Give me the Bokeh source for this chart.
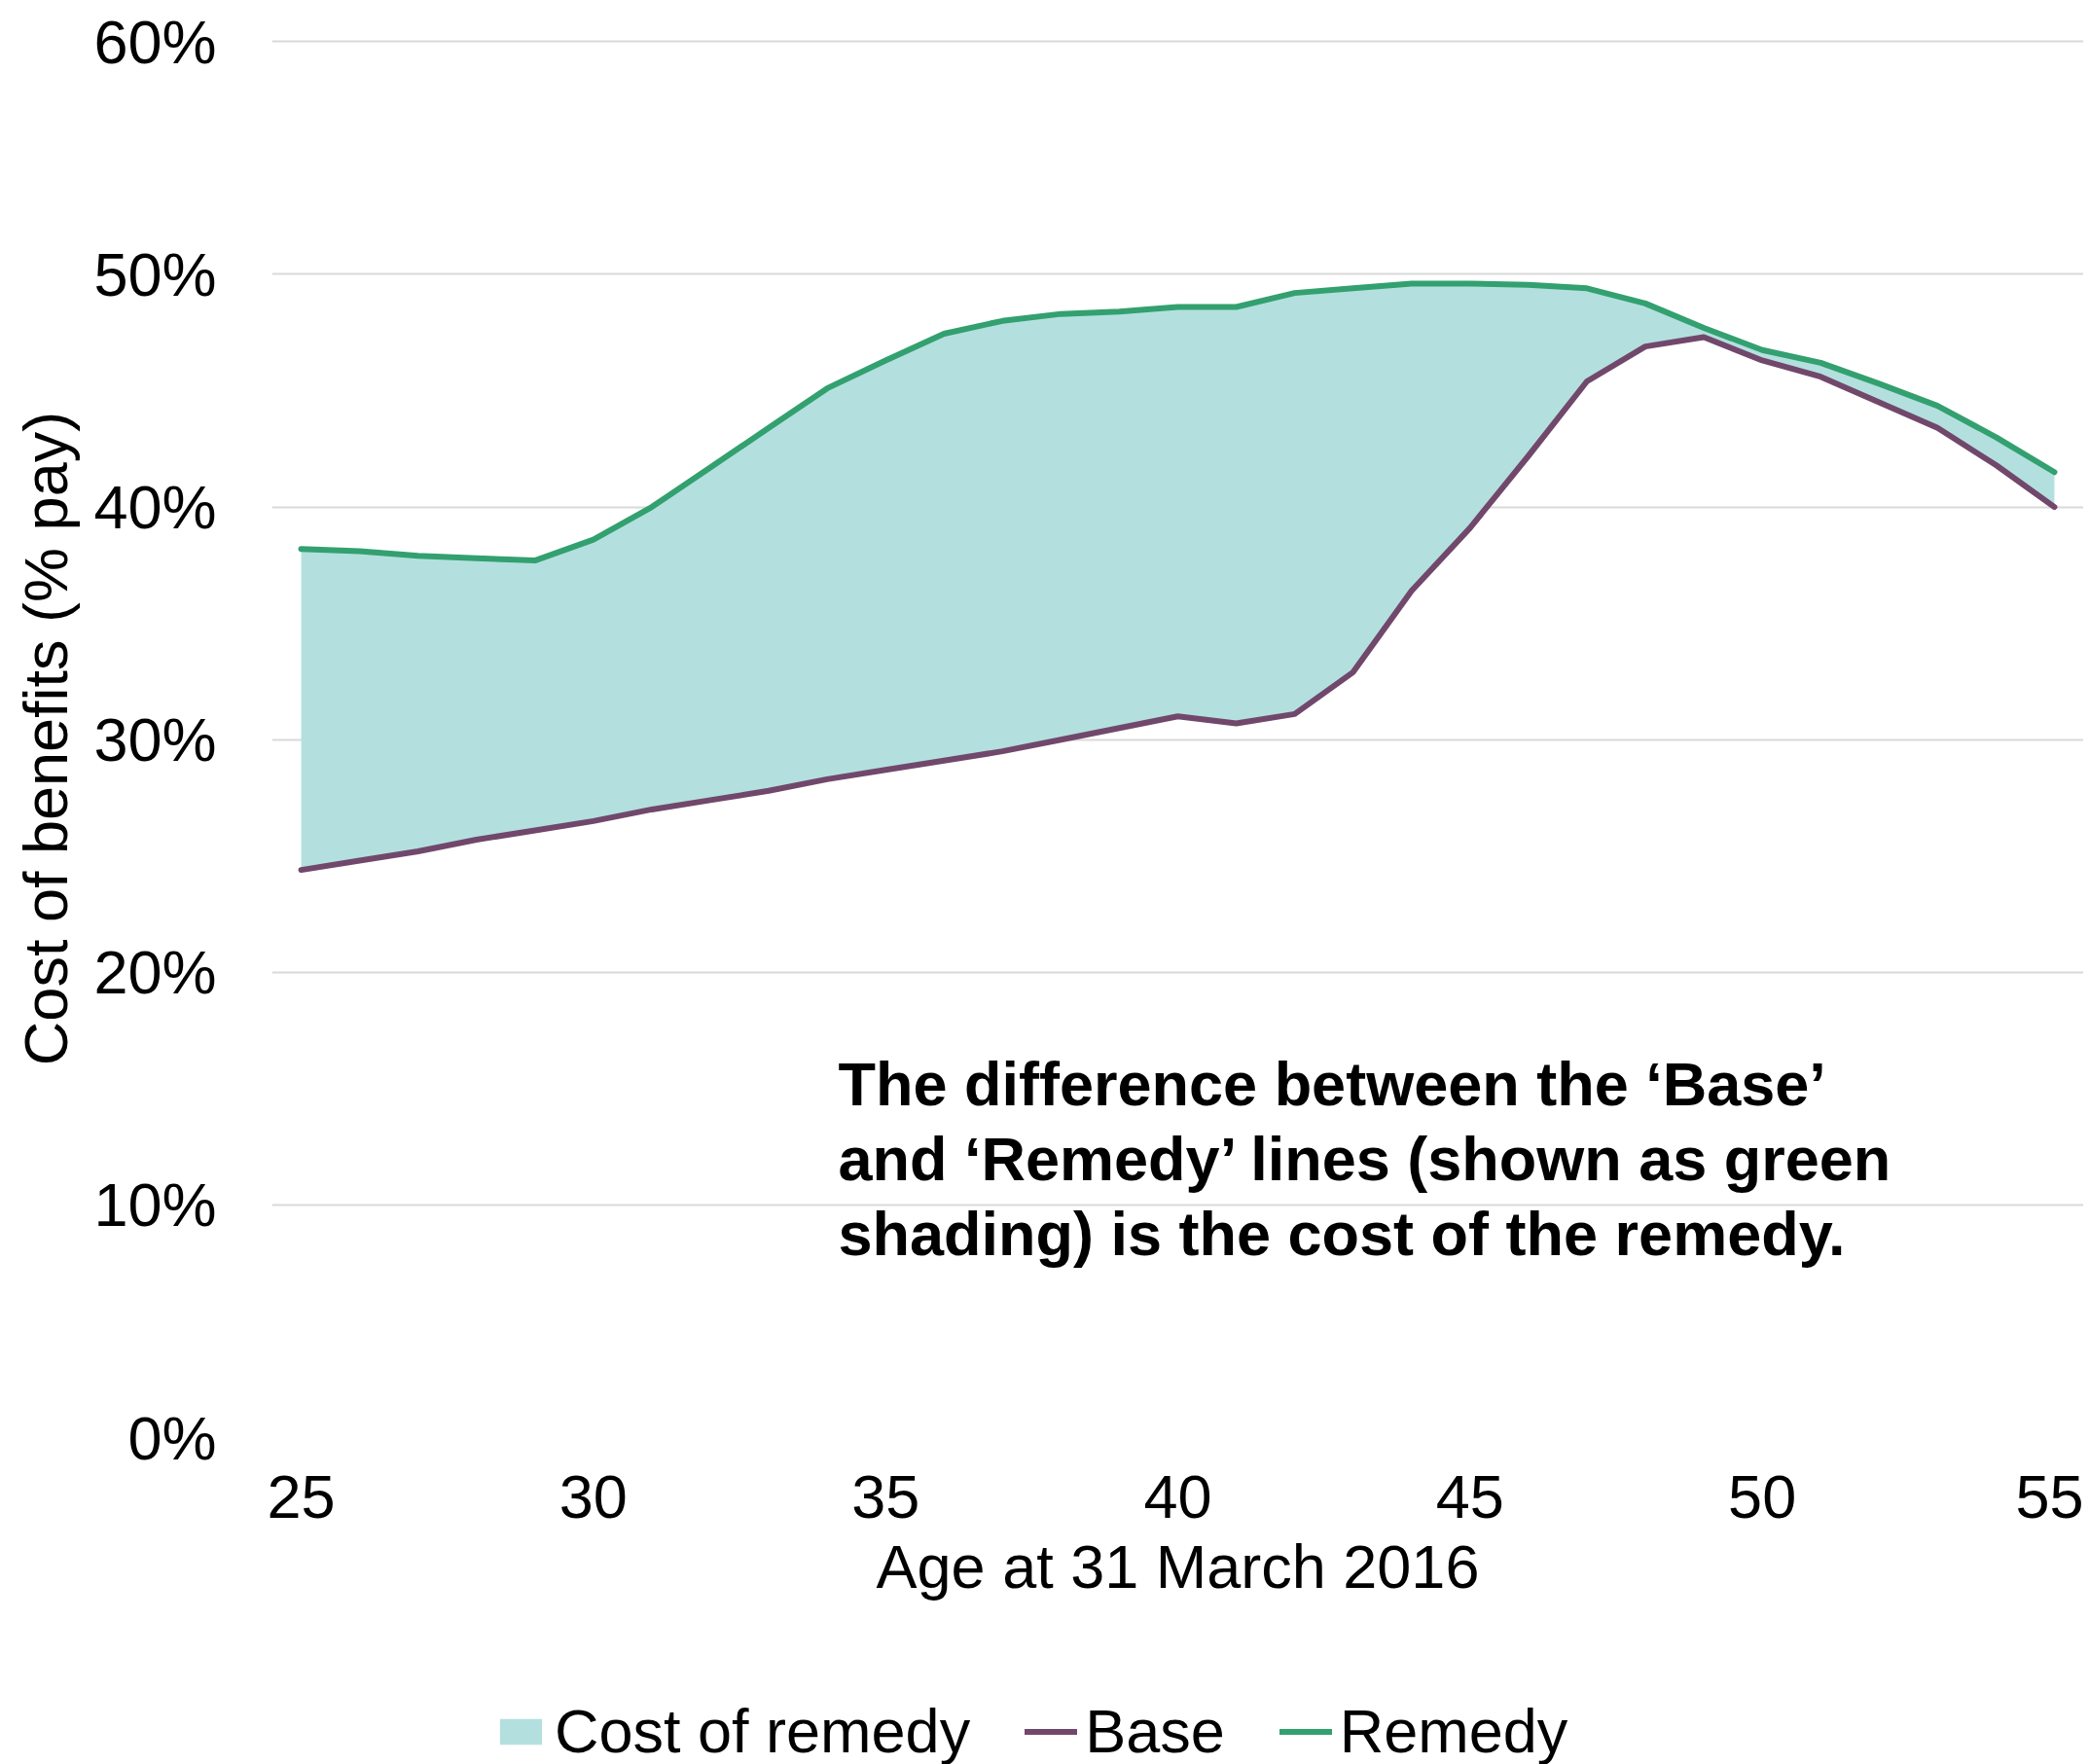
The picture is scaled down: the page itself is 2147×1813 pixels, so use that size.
from bokeh.plotting import figure
from bokeh.layouts import column
from bokeh.models import (Range1d, FixedTicker, PrintfTickFormatter, Legend, LegendItem,
                          Label, ColumnDataSource)
from bokeh.embed import file_html
from bokeh.resources import INLINE

# ---- data ----
ages = [25, 26, 27, 28, 29, 30, 31, 32, 33, 34, 35, 36, 37, 38, 39, 40,
        41, 42, 43, 44, 45, 46, 47, 48, 49, 50, 51, 52, 53, 54, 55]
base = [24.4, 24.8, 25.2, 25.7, 26.1, 26.5, 27.0, 27.4, 27.8, 28.3, 28.7, 29.1, 29.5, 30.0, 30.5, 31.0,
        30.7, 31.1, 32.9, 36.4, 39.1, 42.2, 45.4, 46.9, 47.3, 46.3, 45.6, 44.5, 43.4, 41.8, 40.0]
remedy = [38.2, 38.1, 37.9, 37.8, 37.7, 38.6, 40.0, 41.7, 43.4, 45.1, 46.3, 47.45, 48.0, 48.3, 48.4, 48.6,
          48.6, 49.2, 49.4, 49.6, 49.6, 49.55, 49.4, 48.75, 47.7, 46.75, 46.2, 45.3, 44.35, 43.0, 41.5]
x_ticks = [25, 30, 35, 40, 45, 50, 55]
y_ticks = [0, 10, 20, 30, 40, 50, 60]
series_labels = ["Cost of remedy", "Base", "Remedy"]
annotation_lines = ["The difference between the \u2018Base\u2019",
                    "and \u2018Remedy\u2019 lines (shown as green",
                    "shading) is the cost of the remedy."]

FONT = "Liberation Sans"
FS = "63px"
GREEN = "#33a070"
PURPLE = "#71486b"
FILL = "#b3e0de"

W = 2141
H_MAIN = 1700
H_LEG = 113

src = ColumnDataSource(dict(age=ages, base=base, remedy=remedy))

p = figure(width=W, height=H_MAIN, output_backend="svg", toolbar_location=None,
           x_range=Range1d(24.5, 55.5), y_range=Range1d(0, 60.1),
           min_border_left=279, min_border_right=0, min_border_top=40,
           min_border_bottom=H_MAIN - 1477)
p.outline_line_color = None
p.background_fill_color = "white"
p.border_fill_color = "white"

p.varea(x="age", y1="base", y2="remedy", source=src, fill_color=FILL)
p.line(x="age", y="base", source=src, line_color=PURPLE, line_width=6,
       line_cap="round", line_join="round")
p.line(x="age", y="remedy", source=src, line_color=GREEN, line_width=6,
       line_cap="round", line_join="round")

# axes
p.xaxis.ticker = FixedTicker(ticks=x_ticks)
p.yaxis.ticker = FixedTicker(ticks=y_ticks)
p.yaxis.formatter = PrintfTickFormatter(format="%d%%")
for ax in (p.xaxis, p.yaxis):
    ax.axis_line_color = None
    ax.major_tick_line_color = None
    ax.minor_tick_line_color = None
    ax.major_tick_out = 0
    ax.major_tick_in = 0
    ax.minor_tick_out = 0
    ax.major_label_text_font = FONT
    ax.major_label_text_font_size = FS
    ax.major_label_text_color = "black"
    ax.axis_label_text_font = FONT
    ax.axis_label_text_font_size = FS
    ax.axis_label_text_font_style = "normal"
    ax.axis_label_text_color = "black"
p.xaxis.axis_label = "Age at 31 March 2016"
p.yaxis.axis_label = "Cost of benefits (% pay)"
p.xaxis.major_label_standoff = 39
p.xaxis.axis_label_standoff = 12
p.yaxis.major_label_standoff = 57
p.yaxis.axis_label_standoff = 11

p.xgrid.grid_line_color = None
p.ygrid.grid_line_color = "#d9d9d9"
p.ygrid.grid_line_width = 2

# annotation (data units)
for line, yv in zip(annotation_lines, [15.22, 12.0, 8.78]):
    p.add_layout(Label(x=34.19, y=yv, text=line, text_font=FONT, text_font_size=FS,
                       text_font_style="bold", text_color="black",
                       text_baseline="alphabetic", text_align="left"))

# legend strip below the chart: same series drawn with the same styles,
# outside this strip's visible range, so that only their legend keys show
pl = figure(width=W, height=H_LEG, output_backend="svg", toolbar_location=None,
            x_range=Range1d(24.5, 55.5), y_range=Range1d(0, 1),
            x_axis_type=None, y_axis_type=None,
            min_border_left=0, min_border_right=0, min_border_top=0, min_border_bottom=0)
pl.outline_line_color = None
pl.grid.visible = False
pl.background_fill_color = "white"
pl.border_fill_color = "white"
k_area = pl.varea(x="age", y1="base", y2="remedy", source=src, fill_color=FILL)
k_base = pl.line(x="age", y="base", source=src, line_color=PURPLE, line_width=6, line_cap="round")
k_rem = pl.line(x="age", y="remedy", source=src, line_color=GREEN, line_width=6, line_cap="round")

legend = Legend(items=[LegendItem(label=series_labels[0], renderers=[k_area]),
                       LegendItem(label=series_labels[1], renderers=[k_base]),
                       LegendItem(label=series_labels[2], renderers=[k_rem])],
                orientation="horizontal", location=(229, -2),
                label_text_font=FONT, label_text_font_size=FS, label_text_color="black",
                glyph_width=54, glyph_height=33, label_standoff=8, spacing=56,
                label_height=66, padding=0, margin=0,
                border_line_color=None, background_fill_alpha=0)
pl.add_layout(legend, "center")

layout = column(p, pl, spacing=0)
open("out.html", "w").write(file_html(layout, INLINE))
